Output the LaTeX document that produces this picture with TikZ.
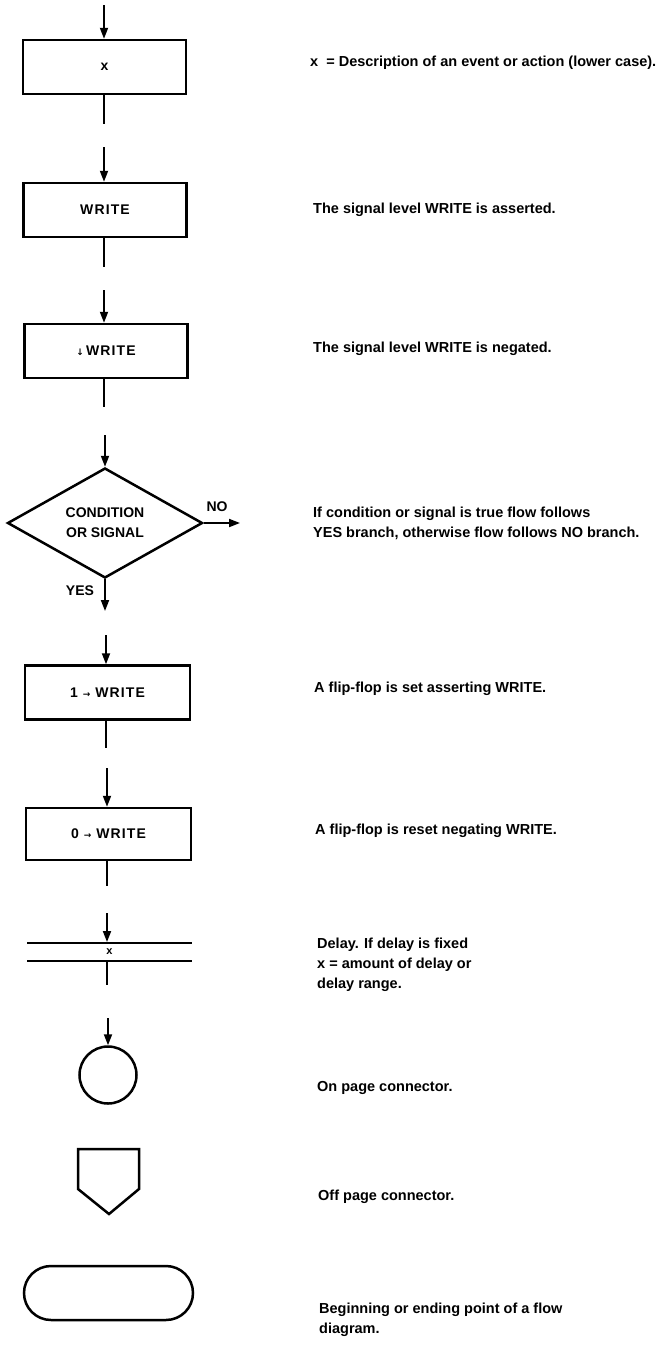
\documentclass[tikz,border=0pt]{standalone}
\usepackage{fontspec}
\setmainfont{Liberation Sans}
\newfontfamily\symfont{DejaVu Sans}
\usetikzlibrary{arrows.meta,shapes.geometric}
\begin{document}
\begin{tikzpicture}[x=1pt,y=-1pt,
  shp/.style={draw, line width=2.5pt},
  box/.style={shp, minimum width=163pt, minimum height=54pt, inner sep=0pt,
    font=\fontsize{14}{15}\selectfont\bfseries\addfontfeature{LetterSpace=8}},
  flow/.style={line width=1.9pt},
  arr/.style={flow, -{Triangle[length=11pt,width=8pt]}},
  desc/.style={anchor=west, align=left, inner sep=0pt,
    font=\fontsize{14.5}{20}\selectfont\bfseries},
  lbl/.style={inner sep=0pt, font=\fontsize{14}{15}\selectfont\bfseries}]
\useasboundingbox (0,0) rectangle (667,1347);

% 1: event box
\coordinate (a1) at (104,5);
\node[box] (b1) at (104.5,67) {x};
\coordinate (e1) at (104,124);
\draw[arr] (a1) -- (a1 |- b1.north);
\draw[flow] (e1 |- b1.south) -- (e1);
\node[desc] (t1) at (310,63) {x\ \ = Description of an event or action (lower case).};

% 2: WRITE asserted
\coordinate (a2) at (104,147);
\node[box] (b2) at (105,210) {WRITE};
\coordinate (e2) at (104,267);
\draw[arr] (a2) -- (a2 |- b2.north);
\draw[flow] (e2 |- b2.south) -- (e2);
\node[desc] (t2) at (313,210) {The signal level WRITE is asserted.};

% 3: WRITE negated
\coordinate (a3) at (104,290);
\node[box] (b3) at (106,351) {{\symfont\fontsize{9}{9}\selectfont ↓}\,WRITE};
\coordinate (e3) at (104,407);
\draw[arr] (a3) -- (a3 |- b3.north);
\draw[flow] (e3 |- b3.south) -- (e3);
\node[desc] (t3) at (313,349) {The signal level WRITE is negated.};

% 4: decision
\coordinate (a4) at (105,435);
\node[shp, diamond, minimum width=195pt, minimum height=110pt, inner sep=0pt,
  align=center, font=\fontsize{14}{20}\selectfont\bfseries] (d) at (105,523)
  {CONDITION\\OR SIGNAL};
\coordinate (no) at (240,523);
\coordinate (yes) at (105,611);
\draw[arr] (a4) -- (d.north);
\draw[arr] (d.east) -- (no);
\draw[arr] (d.south) -- (yes);
\node[lbl] (nol) at (217,507) {NO};
\node[lbl] (yesl) at (80,591) {YES};
\node[desc] (t4) at (313,523) {If condition or signal is true flow follows\\YES branch, otherwise flow follows NO branch.};

% 5: set
\coordinate (a5) at (106,635);
\node[box, minimum width=165pt] (b5) at (107.5,692.5) {1 {\symfont\fontsize{9}{9}\selectfont →} WRITE};
\coordinate (e5) at (106,748);
\draw[arr] (a5) -- (a5 |- b5.north);
\draw[flow] (e5 |- b5.south) -- (e5);
\node[desc] (t5) at (314,689) {A flip-flop is set asserting WRITE.};

% 6: reset
\coordinate (a6) at (107,768);
\node[box, minimum width=165pt, minimum height=52pt] (b6) at (108.5,834) {0 {\symfont\fontsize{9}{9}\selectfont →} WRITE};
\coordinate (e6) at (107,886);
\draw[arr] (a6) -- (a6 |- b6.north);
\draw[flow] (e6 |- b6.south) -- (e6);
\node[desc] (t6) at (315,831) {A flip-flop is reset negating WRITE.};

% 7: delay
\coordinate (a7) at (107,913);
\node[minimum width=165pt, minimum height=18pt, inner sep=0pt, outer sep=0pt,
  font=\fontsize{11}{11}\selectfont\bfseries] (dly) at (109.5,952) {x};
\draw[line width=2.2pt] (dly.north west) -- (dly.north east);
\draw[line width=2.2pt] (dly.south west) -- (dly.south east);
\coordinate (e7) at (107,985);
\draw[arr, shorten >=1pt] (a7) -- (dly.north -| a7);
\draw[flow] (dly.south -| e7) -- (e7);
\node[desc] (t7) at (317,965) {Delay. If delay is fixed\\x = amount of delay or\\delay range.};

% 8: on page connector
\coordinate (a8) at (108,1018);
\node[shp, circle, minimum size=57pt, inner sep=0pt] (onp) at (108,1075) {};
\draw[arr] (a8) -- (onp.north);
\node[desc] (t8) at (317,1088) {On page connector.};

% 9: off page connector
\draw[shp, line join=miter] (78,1149) -- (139,1149) -- (139,1189) -- (109,1214) -- (78,1189) -- cycle;
\node[desc] (t9) at (318,1197) {Off page connector.};

% 10: terminator
\node[shp, rounded corners=27pt, minimum width=169pt, minimum height=54pt, inner sep=0pt] (term) at (108.5,1293) {};
\node[desc] (t10) at (319,1320) {Beginning or ending point of a flow\\diagram.};
\end{tikzpicture}
\end{document}
